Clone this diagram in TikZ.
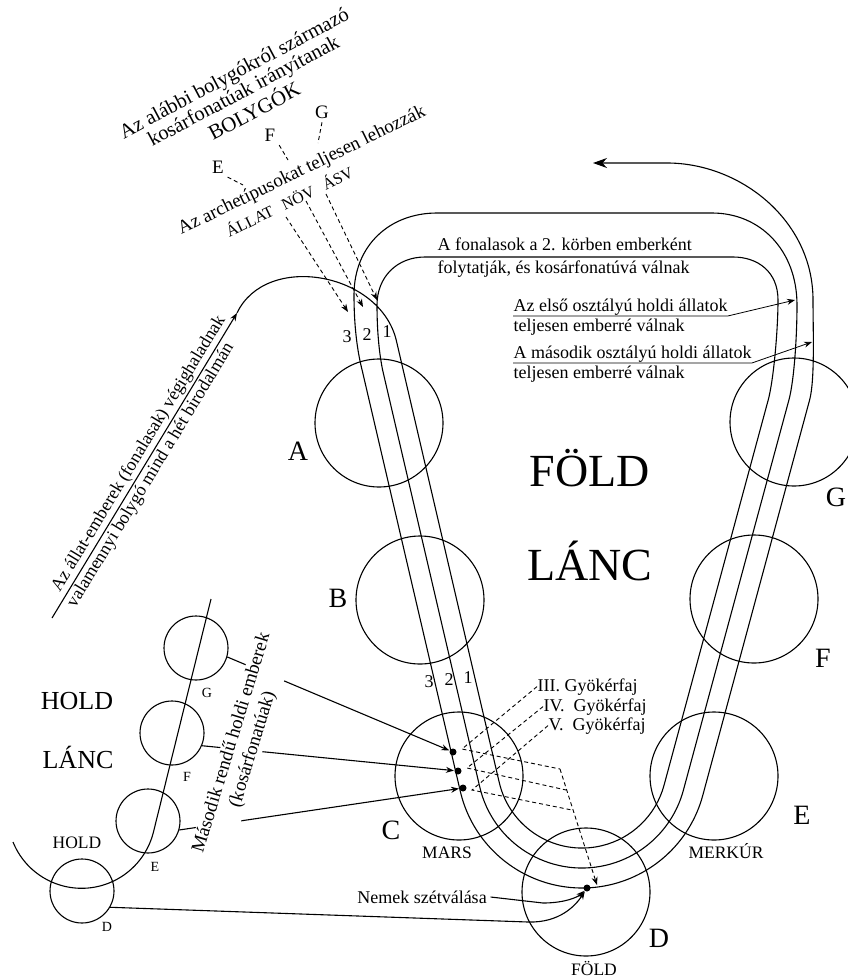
\documentclass[tikz,border=0pt]{standalone}
\usepackage{fontspec}
\setmainfont{Liberation Serif}
\usetikzlibrary{arrows.meta}

\begin{document}
\begin{tikzpicture}[
  x=1pt,y=-1pt,
  >={Stealth[length=8pt,width=6pt]},
  line width=1.1pt,
  planet/.style={draw,circle,minimum size=128pt,inner sep=0pt},
  moon/.style={draw,circle,minimum size=64pt,inner sep=0pt},
  letter/.style={font=\fontsize{28}{30}\selectfont},
  heading/.style={font=\fontsize{46}{50}\selectfont},
  note/.style={align=center,font=\fontsize{18}{21}\selectfont},
  smalltxt/.style={font=\fontsize{17.5}{20}\selectfont},
  moonlbl/.style={font=\fontsize{14}{16}\selectfont},
  guide/.style={dash pattern=on 4pt off 3pt,line width=0.9pt},
  spot/.style={circle,fill,inner sep=0pt,minimum size=7pt}
]
\useasboundingbox (0,0) rectangle (848,977);

% Föld lánc: the seven globes
\node[planet] (A) at (379,423) {};
\node[planet] (B) at (420,600) {};
\node[planet] (C) at (459,776) {};
\node[planet] (D) at (586,892) {};
\node[planet] (E) at (714,776) {};
\node[planet] (F) at (754,599) {};
\node[planet] (G) at (794,422) {};

\node[letter] (labA) at (298,451) {A};
\node[letter] (labB) at (338,598) {B};
\node[letter] (labC) at (391,830) {C};
\node[letter] (labD) at (659,938) {D};
\node[letter] (labE) at (802,815) {E};
\node[letter] (labF) at (823,658) {F};
\node[letter] (labG) at (836,497) {G};

\node[smalltxt,anchor=base] (mars) at (447,858) {MARS};
\node[smalltxt,anchor=base] (merkur) at (726,858) {MERKÚR};
\node[smalltxt,anchor=base] (fold) at (594,975) {FÖLD};

\node[heading,anchor=base] (foldname) at (590,486) {FÖLD};
\node[heading,anchor=base] (lancname) at (590,580) {LÁNC};

% the three threads as one spiral
\coordinate (tail) at (52,618);
\coordinate (entry) at (237,313);
\draw[->] (tail) --
  node[note,sloped,above,pos=0.52,inner sep=2pt] {Az állat-emberek (fonalasak) végighaladnak}
  node[note,sloped,below,pos=0.485,inner sep=2pt] {valamennyi bolygó mind a hét birodalmán} (entry);

\draw[-{Stealth[length=14pt,width=10pt]}] (entry)
  .. controls (266,252) and (380,272) .. (396.3,340.4)
  -- (499.2,782.3) arc[start angle=166.9,end angle=15.1,radius=85]
  -- (768.2,400) .. controls (773.6,380) and (778,330) .. (778,300)
  .. controls (778,272) and (758,257) .. (733,257)
  -- (425,257) .. controls (397,257) and (377,277) .. (377,305)
  .. controls (377,330) and (379,352) .. (382.6,370)
  -- (479.7,786.8) arc[start angle=166.9,end angle=15.1,radius=105]
  -- (788.9,400) .. controls (794.3,380) and (797,335) .. (797,305)
  .. controls (797,250) and (760,213) .. (712,213)
  -- (437,213) .. controls (390,213) and (354,245) .. (354,295)
  .. controls (354,325) and (357,350) .. (362.1,370)
  -- (460.3,791.3) arc[start angle=166.9,end angle=15.1,radius=125]
  -- (809.6,400) .. controls (815,380) and (813,330) .. (813,300)
  .. controls (813,220) and (740,163) .. (667,163) -- (593,163);

\node[note] (up3) at (347,337) {3};
\node[note] (up2) at (367,335) {2};
\node[note] (up1) at (387,332) {1};
\node[note] (low3) at (429,682) {3};
\node[note] (low2) at (449,680) {2};
\node[note] (low1) at (468,678) {1};

% texts on the top right
\node[note,anchor=base west,inner xsep=0pt] (fon1) at (437,250) {A fonalasok a 2. körben emberként};
\node[note,anchor=base west,inner xsep=0pt] (fon2) at (437,273) {folytatják, és kosárfonatúvá válnak};
\node[note,anchor=base west,inner xsep=0pt,inner ysep=0.5pt] (elso) at (513,311) {Az első osztályú holdi állatok};
\node[note,anchor=base west,inner xsep=0pt] (elso2) at (513,331) {teljesen emberré válnak};
\node[note,anchor=base west,inner xsep=0pt,inner ysep=0.5pt] (masik) at (513,358) {A második osztályú holdi állatok};
\node[note,anchor=base west,inner xsep=0pt] (masik2) at (513,378) {teljesen emberré válnak};
\coordinate (tgt2) at (795,300);
\coordinate (tgt3) at (812,342);
\draw[->,line width=0.8pt] (elso.south west) -- (elso.south east) -- (tgt2);
\draw[->,line width=0.8pt] (masik.south west) -- (masik.south east) -- (tgt3);

% planets and archetypes at the top left
\node[note,rotate=28,font=\fontsize{20.5}{20}\selectfont] (bolygok) at (244,92)
  {Az alábbi bolygókról származó\\kosárfonatúak irányítanak\\{\fontsize{21}{20}\selectfont BOLYGÓK}};
\node[note,font=\fontsize{19}{20}\selectfont] (topE) at (218,167) {E};
\node[note,font=\fontsize{19}{20}\selectfont] (topF) at (270,135) {F};
\node[note,font=\fontsize{19}{20}\selectfont] (topG) at (322,112) {G};
\node[note,rotate=26,font=\fontsize{19}{20}\selectfont] (arch) at (302,171) {Az archetípusokat teljesen lehozzák};
\node[note,rotate=26,font=\fontsize{16}{18}\selectfont] (kingd) at (289,201) {ÁLLAT\hspace{11pt}NÖV\hspace{11pt}ÁSV};

\coordinate (eEnd) at (243,185);
\coordinate (fEnd) at (288,160);
\coordinate (gEnd) at (318,143);
\draw[guide] (topE.south east) -- (eEnd);
\draw[guide] (topF.south east) -- (fEnd);
\draw[guide] (topG.south) -- (gEnd);

\coordinate (allat) at (286,217);
\coordinate (nov) at (306,201);
\coordinate (asv) at (326,194);
\coordinate (lane3) at (348,312);
\coordinate (lane2) at (363,307);
\coordinate (lane1) at (377,300);
\draw[guide,->] (allat) -- (lane3);
\draw[guide,->] (nov) -- (lane2);
\draw[guide,->] (asv) -- (lane1);

% Hold lánc
\draw (13,842) arc[start angle=158,end angle=14,radius=74] -- (211,599);
\node[moon] (mg) at (196,648) {};
\node[moon] (mf) at (172,733) {};
\node[moon] (me) at (148,821) {};
\node[moon] (md) at (82,891) {};
\node[moonlbl] (lg) at (207,693) {G};
\node[moonlbl] (lf) at (187,777) {F};
\node[moonlbl] (le) at (155,867) {E};
\node[moonlbl] (ld) at (107,927) {D};
\node[font=\fontsize{26}{28}\selectfont] (holdname) at (77,701) {HOLD};
\node[font=\fontsize{26}{28}\selectfont,anchor=base] (lancmoon) at (78,768) {LÁNC};
\node[smalltxt] (holdsmall) at (77,843) {HOLD};

% root races and the separation of sexes
\node[spot] (root3) at (453,752) {};
\node[spot] (root4) at (458,771) {};
\node[spot] (root5) at (463,788) {};
\node[spot] (split) at (587,888) {};

\draw[->] (mg.-16) -- (root3);
\draw[->] (mf.-23) -- (root4);
\draw[->] (me.-16) -- (root5);
\node[note,rotate=73,fill=white,inner sep=1pt,font=\fontsize{19}{22}\selectfont] (masod) at (242.5,746)
  {Második rendű holdi emberek\\(kosárfonatúak)};

\node[note] (nemek) at (422,897) {Nemek szétválása};
\coordinate (nbend) at (543,903);
\coordinate (dbend) at (528,922);
\draw[->] (nemek.east) -- (nbend) .. controls (565,903) and (578,897) .. (split);
\draw[->] (md.-30) -- (dbend) .. controls (560,923) and (576,905) .. (split);

\node[note,anchor=base west,inner xsep=0pt] (gy3) at (537,691) {III. Gyökérfaj};
\node[note,anchor=base west,inner xsep=0pt] (gy4) at (543,711) {IV.\enspace Gyökérfaj};
\node[note,anchor=base west,inner xsep=0pt] (gy5) at (548,730) {V.\enspace Gyökérfaj};
\coordinate (k3) at (462,749);
\coordinate (k4) at (467,768);
\coordinate (k5) at (472,790);
\coordinate (j3) at (560,769);
\coordinate (j4) at (566,790);
\coordinate (j5) at (572,810);
\coordinate (sepend) at (597,885);
\draw[guide] (gy3.west) -- (k3) -- (j3);
\draw[guide] (gy4.west) -- (k4) -- (j4);
\draw[guide] (gy5.west) -- (k5) -- (j5);
\draw[guide,->] (j3) -- (sepend);
\end{tikzpicture}
\end{document}
